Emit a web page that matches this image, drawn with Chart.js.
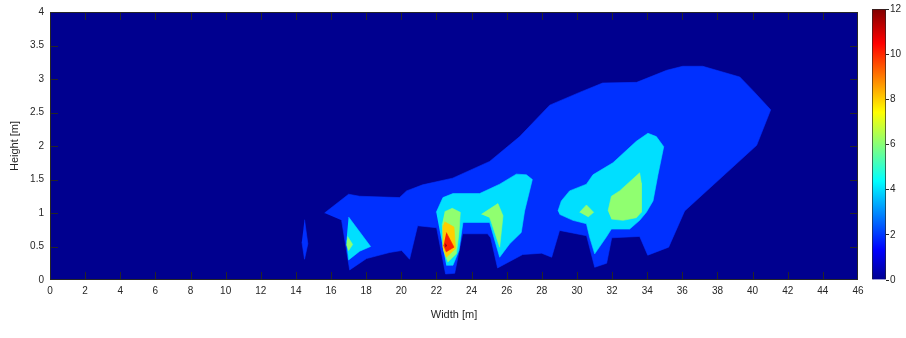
<!DOCTYPE html>
<html>
<head>
<meta charset="utf-8">
<script src="https://cdn.jsdelivr.net/npm/chart.js@4.4.0/dist/chart.umd.min.js"></script>
<style>
  html, body { margin: 0; padding: 0; background: #fff; }
  #wrap { position: relative; width: 906px; height: 338px; }
  #plot { position: absolute; left: 0; top: 0; }
  #cbar { position: absolute; left: 860px; top: 0; }
</style>
</head>
<body>
<div id="wrap">
  <canvas id="plot" width="906" height="338"></canvas>
  <canvas id="cbar" width="46" height="338"></canvas>
</div>
<script>
// axis ticks
const xTicks = [0, 2, 4, 6, 8, 10, 12, 14, 16, 18, 20, 22, 24, 26, 28, 30, 32, 34, 36, 38, 40, 42, 44, 46];
const yTicks = [0, 0.5, 1, 1.5, 2, 2.5, 3, 3.5, 4];
const cbTicks = [0, 2, 4, 6, 8, 10, 12];

// contour levels and their fill colours (jet, 0..12)
const levels = [0, 2, 4, 6, 8, 10, 12];
const levelColors = ['#00008f', '#0030ff', '#00dfff', '#90ff70', '#ffcf00', '#ff2000', '#800000'];

// contour polygons, [width m, height m]
const field = [[0, 0], [46, 0], [46, 4], [0, 4]];
const blueMain = [
  [15.63, 1.00], [17.00, 1.28], [17.63, 1.25], [19.90, 1.23], [20.30, 1.33], [21.21, 1.42],
  [22.92, 1.52], [25.03, 1.77], [26.74, 2.14], [28.45, 2.61], [30.15, 2.80], [31.46, 2.94],
  [33.40, 2.95], [35.11, 3.13], [36.02, 3.19], [37.16, 3.19], [39.27, 3.03], [40.01, 2.83],
  [41.03, 2.54], [40.23, 2.01], [36.13, 1.03], [35.22, 0.49], [34.03, 0.37], [33.57, 0.65],
  [31.98, 0.63], [31.69, 0.25], [31.01, 0.19], [30.55, 0.66], [29.01, 0.74], [28.56, 0.34],
  [27.99, 0.40], [26.91, 0.38], [25.48, 0.18], [25.09, 0.63], [24.91, 0.69], [23.49, 0.69],
  [23.38, 0.55], [23.04, 0.10], [22.52, 0.09], [22.01, 0.78], [20.93, 0.81], [20.47, 0.31],
  [20.02, 0.44], [19.33, 0.41], [18.02, 0.32], [17.06, 0.15], [16.60, 0.89]
];
const blueSliver = [[14.49, 0.90], [14.68, 0.54], [14.49, 0.31], [14.34, 0.57]];
const cyan17 = [[17.00, 0.94], [18.25, 0.50], [17.63, 0.43], [17.00, 0.30], [16.88, 0.59]];
const cyan23 = [
  [21.99, 1.01], [22.37, 1.23], [22.94, 1.29], [24.46, 1.29], [25.60, 1.43], [26.55, 1.58],
  [27.12, 1.57], [27.46, 1.50], [27.02, 1.03], [26.83, 0.71], [26.17, 0.54], [25.60, 0.34],
  [25.03, 0.86], [23.51, 0.86], [23.28, 0.44], [22.94, 0.22], [22.56, 0.22]
];
const cyan32 = [
  [28.92, 1.03], [29.11, 1.18], [29.58, 1.33], [30.54, 1.43], [30.91, 1.57], [32.05, 1.75],
  [33.38, 2.07], [34.04, 2.19], [34.52, 2.14], [34.94, 1.99], [34.61, 1.57], [34.33, 1.18],
  [33.95, 1.01], [33.57, 0.89], [33.00, 0.76], [31.96, 0.76], [31.67, 0.64], [31.01, 0.39],
  [30.72, 0.64], [30.54, 0.84], [29.77, 0.89], [29.01, 0.98]
];
const green17 = [[16.94, 0.65], [17.23, 0.53], [17.00, 0.44], [16.88, 0.53]];
const green22 = [
  [22.47, 1.02], [22.90, 1.07], [23.36, 1.01], [23.28, 0.69], [23.13, 0.39], [22.65, 0.27],
  [22.41, 0.44], [22.33, 0.84]
];
const green25 = [[24.56, 0.98], [25.50, 1.14], [25.79, 0.96], [25.60, 0.49], [25.13, 0.86], [25.03, 0.93]];
const green30 = [[30.15, 1.01], [30.54, 1.12], [30.95, 1.01], [30.63, 0.94]];
const green33 = [
  [31.77, 1.03], [31.96, 1.25], [32.43, 1.33], [33.57, 1.60], [33.66, 1.45], [33.66, 1.01],
  [33.38, 0.93], [32.62, 0.89], [31.96, 0.91]
];
const orange22 = [[22.47, 0.87], [23.00, 0.79], [23.09, 0.47], [22.56, 0.34], [22.37, 0.49], [22.37, 0.81]];
const red22 = [[22.56, 0.71], [23.00, 0.49], [22.56, 0.42], [22.41, 0.52]];
const peak22 = [[22.50, 0.54], [22.58, 0.52], [22.52, 0.49]];

// drawn bottom to top, with the index into levels
const contours = [
  [field, 0], [blueMain, 1], [blueSliver, 1],
  [cyan17, 2], [cyan23, 2], [cyan32, 2],
  [green17, 3], [green22, 3], [green25, 3], [green30, 3], [green33, 3],
  [orange22, 4], [red22, 5], [peak22, 6]
];

Chart.defaults.font.family = "'Liberation Sans', Arial, sans-serif";
Chart.defaults.font.size = 10;
Chart.defaults.color = '#262626';

const inkColor = '#262626';

// MATLAB style box with inward ticks on all four sides
const axesBox = {
  id: 'axesBox',
  afterDatasetsDraw(chart) {
    const { ctx, chartArea: a, scales: { x, y } } = chart;
    ctx.save();
    ctx.strokeStyle = inkColor;
    ctx.lineWidth = 1;
    ctx.beginPath();
    xTicks.forEach(v => {
      const px = Math.min(Math.round(x.getPixelForValue(v)) + 0.5, a.right - 0.5);
      ctx.moveTo(px, a.bottom); ctx.lineTo(px, a.bottom - 8);
      ctx.moveTo(px, a.top); ctx.lineTo(px, a.top + 8);
    });
    yTicks.forEach(v => {
      const py = Math.min(Math.round(y.getPixelForValue(v)) + 0.5, a.bottom - 0.5);
      ctx.moveTo(a.left, py); ctx.lineTo(a.left + 8, py);
      ctx.moveTo(a.right, py); ctx.lineTo(a.right - 8, py);
    });
    ctx.stroke();
    ctx.strokeRect(a.left + 0.5, a.top + 0.5, a.width - 1, a.height - 1);
    ctx.restore();
  }
};

new Chart(document.getElementById('plot'), {
  type: 'scatter',
  data: {
    datasets: contours.map(([pts, lvl], i) => ({
      data: pts.map(([x, y]) => ({ x, y })),
      showLine: true,
      fill: 'shape',
      backgroundColor: levelColors[lvl],
      borderColor: levelColors[lvl],
      borderWidth: 0.6,
      pointRadius: 0,
      pointHoverRadius: 0,
      tension: 0,
      order: contours.length - i
    }))
  },
  options: {
    responsive: false,
    animation: false,
    events: [],
    layout: { padding: { left: 0, top: 9, right: 48, bottom: 0 } },
    plugins: { legend: { display: false }, tooltip: { enabled: false } },
    scales: {
      x: {
        type: 'linear', min: 0, max: 46,
        afterFit: s => { s.height = 58; },
        afterBuildTicks: s => { s.ticks = xTicks.map(v => ({ value: v })); },
        grid: { display: false, drawTicks: false },
        border: { display: false },
        ticks: { padding: 5, maxRotation: 0, autoSkip: false, callback: v => String(v) },
        title: { display: true, text: 'Width [m]', font: { size: 11 }, padding: { top: 0, bottom: 16 } }
      },
      y: {
        type: 'linear', min: 0, max: 4,
        afterFit: s => { s.width = 50; },
        afterBuildTicks: s => { s.ticks = yTicks.map(v => ({ value: v })); },
        grid: { display: false, drawTicks: false },
        border: { display: false },
        ticks: { padding: 6, callback: v => String(v) },
        title: { display: true, text: 'Height [m]', font: { size: 11 }, padding: { top: 8, bottom: 0 } }
      }
    }
  },
  plugins: [axesBox]
});

// colour bar
const jetStops = [[0, '#00008f'], [0.111, '#0000ff'], [0.365, '#00ffff'], [0.619, '#ffff00'], [0.873, '#ff0000'], [1, '#800000']];

new Chart(document.getElementById('cbar'), {
  type: 'bar',
  data: {
    labels: [''],
    datasets: [{
      data: [levels[levels.length - 1]],
      backgroundColor: c => {
        const ca = c.chart.chartArea;
        if (!ca) return levelColors[0];
        const g = c.chart.ctx.createLinearGradient(0, ca.bottom, 0, ca.top);
        jetStops.forEach(([p, col]) => g.addColorStop(p, col));
        return g;
      },
      borderColor: inkColor,
      borderWidth: 1,
      barPercentage: 1,
      categoryPercentage: 1
    }]
  },
  options: {
    responsive: false,
    animation: false,
    events: [],
    layout: { padding: { left: 12, top: 9, right: 0, bottom: 58 } },
    plugins: { legend: { display: false }, tooltip: { enabled: false } },
    scales: {
      x: { display: false },
      y: {
        position: 'right', min: 0, max: 12,
        afterFit: s => { s.width = 20; },
        afterBuildTicks: s => { s.ticks = cbTicks.map(v => ({ value: v })); },
        grid: { display: true, drawOnChartArea: false, drawTicks: true, tickLength: 3, color: inkColor },
        border: { display: false },
        ticks: { padding: 1 }
      }
    }
  }
});
</script>
</body>
</html>
